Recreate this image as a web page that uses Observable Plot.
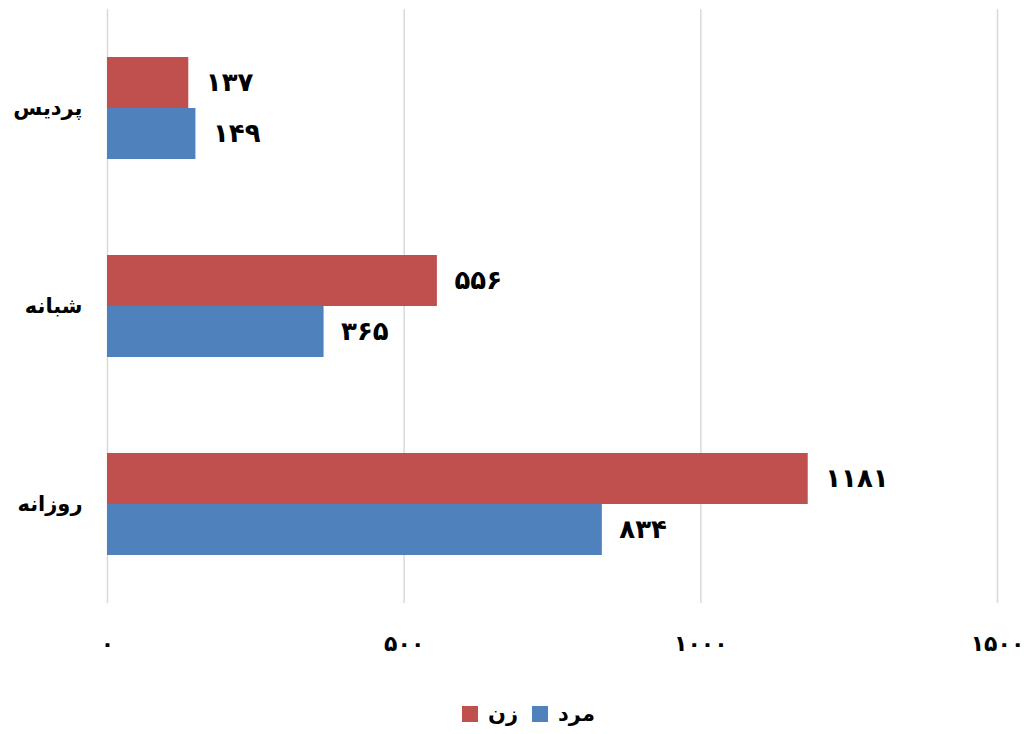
<!DOCTYPE html>
<html>
<head>
<meta charset="utf-8">
<script src="https://cdn.jsdelivr.net/npm/d3@7"></script>
<script src="https://cdn.jsdelivr.net/npm/@observablehq/plot@0.6"></script>
<style>
  html, body { margin: 0; padding: 0; background: #fff; }
  #chart { width: 1025px; }
  .legend { display: flex; align-items: center; justify-content: center; direction: ltr;
    font-family: "DejaVu Sans", sans-serif; font-weight: bold; font-size: 21px; color: #000;
    padding-left: 46px; height: 40px; }
  .sw { width: 16px; height: 16px; display: inline-block; }
  .lab { margin: 0 14px 0 10px; }
</style>
</head>
<body>
<div id="chart"></div>
<script>
const categories = ["پردیس", "شبانه", "روزانه"];
const series = ["زن", "مرد"];
const womenValues = [137, 556, 1181];
const menValues = [149, 365, 834];
const xTicks = [0, 500, 1000, 1500];
const colors = ["#C0504D", "#4F81BD"];

const faDigits = "۰۱۲۳۴۵۶۷۸۹";
const toFa = n => String(n).replace(/[0-9]/g, d => faDigits[+d]);

const data = [];
categories.forEach((c, i) => {
  data.push({category: c, series: series[0], value: womenValues[i]});
  data.push({category: c, series: series[1], value: menValues[i]});
});

const font = '"DejaVu Sans", sans-serif';

const plot = Plot.plot({
  width: 1025,
  height: 694,
  marginTop: 8,
  marginBottom: 91,
  marginLeft: 107,
  marginRight: 28,
  style: {fontFamily: font, fontWeight: "bold", color: "#000", background: "#fff"},
  x: {domain: [0, 1500], ticks: xTicks, label: null},
  y: {domain: series, axis: null, paddingInner: 0, paddingOuter: 0.92},
  fy: {domain: categories, padding: 0, label: null},
  color: {domain: series, range: colors},
  marks: [
    Plot.gridX(xTicks, {stroke: "#d9d9d9", strokeOpacity: 1, strokeWidth: 1.5}),
    Plot.barX(data, {x: "value", y: "series", fy: "category", fill: "series"}),
    Plot.text(data, {x: "value", y: "series", fy: "category", text: d => toFa(d.value),
      textAnchor: "start", dx: 17, fontSize: 26, fontWeight: "bold", fill: "#000"}),
    Plot.axisX({ticks: xTicks, tickFormat: toFa, tickSize: 0, tickPadding: 32, fontSize: 22, fontWeight: "bold", anchor: "bottom", label: null}),
    Plot.axisFy({anchor: "left", tickSize: 0, tickPadding: 25, fontSize: 21, fontWeight: "bold", label: null})
  ]
});
document.getElementById("chart").appendChild(plot);

const legend = document.createElement("div");
legend.className = "legend";
series.forEach((s, i) => {
  const sw = document.createElement("span");
  sw.className = "sw";
  sw.style.background = colors[i];
  const lab = document.createElement("span");
  lab.className = "lab";
  lab.textContent = s;
  legend.appendChild(sw);
  legend.appendChild(lab);
});
document.getElementById("chart").appendChild(legend);
</script>
</body>
</html>
